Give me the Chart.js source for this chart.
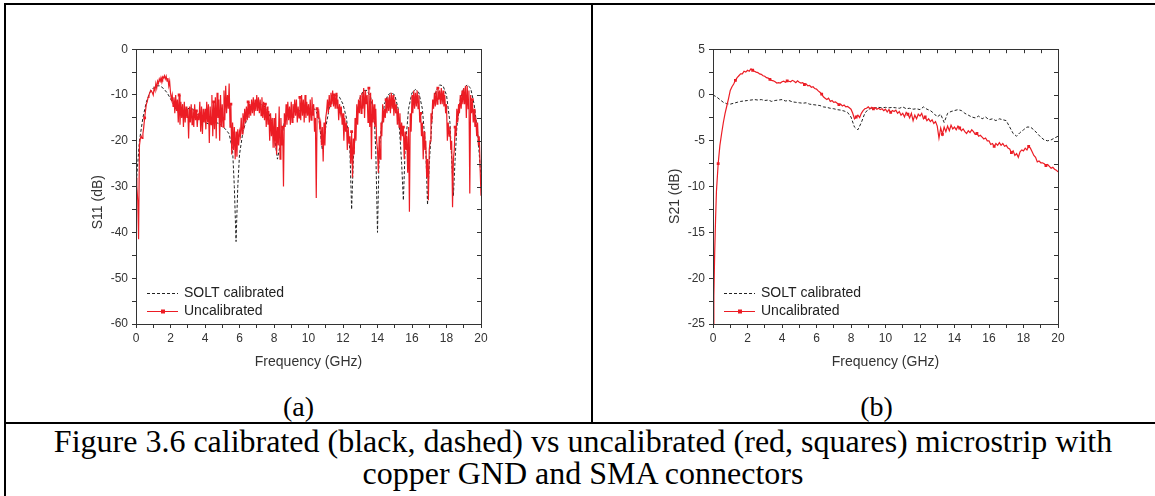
<!DOCTYPE html>
<html>
<head>
<meta charset="utf-8">
<script src="https://cdn.jsdelivr.net/npm/chart.js@4.4.1/dist/chart.umd.min.js"></script>
<style>
  body { margin: 0; background: #fff; width: 1155px; height: 496px; overflow: hidden; position: relative; }
  .ln { position: absolute; background: #000; }
  .box { position: absolute; }
  .cap { position: absolute; font-family: "Liberation Serif", "Times New Roman", serif; color: #000; text-align: center; white-space: nowrap; }
</style>
</head>
<body>
<!-- table lines -->
<div class="ln" style="left:4px; top:3px; width:1160px; height:2px;"></div>
<div class="ln" style="left:4px; top:3px; width:2px; height:500px;"></div>
<div class="ln" style="left:591px; top:3px; width:2px; height:421px;"></div>
<div class="ln" style="left:4px; top:422px; width:1160px; height:2px;"></div>

<div class="box" style="left:90px; top:38px; width:411px; height:336px;"><canvas id="c1"></canvas></div>
<div class="box" style="left:667px; top:38px; width:411px; height:336px;"><canvas id="c2"></canvas></div>

<div class="cap" style="left:6px; width:585px; top:392px; font-size:28px; line-height:30px;">(a)</div>
<div class="cap" style="left:593px; width:567px; top:392px; font-size:28px; line-height:30px;">(b)</div>
<div class="cap" style="left:6px; width:1154px; top:425px; font-size:32px; line-height:32px;">Figure 3.6 calibrated (black, dashed) vs uncalibrated (red, squares) microstrip with<br>copper GND and SMA connectors</div>

<script>
// ---- (a) S11 ----
var s11CalFreq = [0,0.1,0.2,0.4,0.6,0.8,1.0,1.2,1.4,1.6,1.8,2.0,2.2,2.4,2.6,2.8,3.0,3.2,3.4,3.6,3.8,4.0,4.2,4.4,4.6,4.8,5.0,5.2,5.4,5.6,5.7,5.8,5.9,6.0,6.2,6.4,6.6,6.8,7.0,7.2,7.4,7.6,7.8,8.0,8.2,8.4,8.6,8.8,9.0,9.2,9.4,9.6,9.8,10.0,10.2,10.4,10.6,10.8,11.0,11.2,11.4,11.6,11.8,12.0,12.2,12.4,12.5,12.6,12.8,13.0,13.2,13.4,13.6,13.8,13.9,14.0,14.1,14.2,14.4,14.6,14.8,15.0,15.2,15.4,15.5,15.6,15.8,16.0,16.2,16.4,16.6,16.8,16.9,17.0,17.2,17.4,17.6,17.8,18.0,18.2,18.3,18.4,18.5,18.6,18.8,19.0,19.2,19.4,19.6,19.8,20.0];
var s11Cal = [-30,-25,-20,-15,-11.5,-9.5,-8.5,-8,-8,-8.6,-9.5,-10.8,-12.2,-13.6,-14.5,-14,-13,-12.8,-13.5,-14.5,-15.5,-16,-16.3,-16.2,-16,-16.2,-16.8,-17.5,-18.5,-22,-30,-42,-30,-23,-18,-15.5,-13.5,-12.5,-12,-12,-12.3,-13.2,-15,-18.5,-24,-20,-16,-14,-13.5,-13.3,-13.5,-13.4,-13.2,-13,-12.8,-13.2,-15,-22,-17,-13,-11,-10,-10.5,-12,-15,-22,-35,-24,-14,-10.5,-9,-9,-10.5,-14,-22,-40,-22,-18,-12,-10,-9.5,-10,-13,-25,-33,-22,-13,-9.5,-8.8,-9.5,-13,-22,-34,-25,-13,-9,-7.8,-8,-10,-16,-24,-32,-24,-17,-11,-8.5,-7.8,-8.5,-12,-18,-28];
// uncalibrated, one value every 0.05 GHz, one row per GHz
var s11Uncal = [
  -28,-30,-33,-41.5,-21,-19.5,-19,-19.5,-18.5,-17,-15,-13.5,-12,-11.5,-10.5,-10,-9.5,-9,-9.2,-9.5,
  -10,-8.5,-9,-7.5,-8.5,-7,-7.5,-6.5,-7,-6.2,-6.8,-6,-6.3,-5.8,-6.5,-5.9,-7,-6.3,-8,-7,
  -9.5,-11,-10,-12.5,-10.5,-14,-10,-13.5,-11,-16,-10,-16.5,-11.5,-15,-12,-17,-11.5,-16,-12.5,-15,
  -13,-19.5,-12.5,-16,-12,-16.5,-13,-17,-12,-15.5,-13.5,-17,-14,-15.5,-11.5,-18,-12.5,-18.5,-13,-16,
  -13,-17.5,-11.5,-16,-12,-20.5,-12.5,-16.5,-10,-19,-11.5,-17.5,-10.5,-19.5,-9.5,-15,-11,-20,-10,-17,
  -12,-17,-9,-15.5,-8,-14,-10,-13,-7.5,-17,-12,-23,-16,-22,-17,-24,-18,-23.5,-17.5,-21,
  -18,-19,-15,-18.5,-14,-17.5,-13,-16,-12.5,-15.5,-11.5,-15,-12,-14.5,-11,-14,-10.5,-14.5,-11,-13.5,
  -10,-13.5,-10.5,-14,-11,-14.5,-10.5,-15,-11.5,-15.5,-12,-17,-12.5,-16.5,-13.5,-20,-14,-19,-15,-21.5,
  -15,-21.5,-14,-23,-17,-21,-12.5,-24,-15,-21,-17,-30,-14,-17,-12,-16.5,-11.5,-15.5,-12.5,-16.5,
  -11.5,-16,-12,-15,-11,-14.5,-11,-16,-12.5,-15,-10.5,-15.5,-10,-14.5,-11,-16,-10,-15,-11.5,-14.5,
  -12,-16,-11,-15.5,-10.5,-14.5,-12,-18,-15,-32.5,-13,-15,-14,-17,-16,-21,-17,-24.5,-16,-21,
  -15,-13.5,-11,-14,-10,-12.5,-9.5,-12,-9,-12.5,-10,-13,-9.5,-13,-11,-15.5,-12,-14,-12.5,-16.5,
  -14,-20,-15,-18,-16,-22,-17,-20.5,-19,-25,-18,-28,-19.5,-23,-15,-20,-12,-16.5,-11,-14,
  -10,-14,-9.5,-13,-8.5,-15,-9,-12,-10,-16,-8.5,-17,-9.5,-24,-11,-16,-12,-17,-13,-20,
  -22,-27,-19,-24,-16,-19,-12,-16,-13,-15,-11,-14,-10.5,-13.5,-10,-14,-9.5,-13,-10,-14.5,
  -11,-14,-12,-16.5,-13,-17,-14,-20,-16,-19,-17,-24,-18,-22,-19,-27,-17,-35.5,-14,-18,
  -10,-14,-9,-13,-9.5,-12.5,-9,-13,-10,-16,-14,-19,-16,-24,-18,-22,-20,-28,-24,-33,
  -22,-20,-14,-16,-11,-13,-9.5,-12.5,-9,-12,-8.5,-11,-9,-12,-8.5,-12,-9,-12.5,-10,-14,
  -12,-20,-16,-19,-17,-22,-20,-34.5,-24,-22,-17,-19,-13,-16,-12,-14,-10,-13,-9,-12,
  -8.5,-12,-8,-15,-8,-13,-9,-31.5,-10,-14,-11,-16,-13,-17,-15,-19,-16,-21,-19,-26,
  -32];
var s11UncalFreq = [];
for (var k = 0; k < s11Uncal.length; k++) s11UncalFreq.push(+(k * 0.05).toFixed(2));

// ---- (b) S21 ----
var s21CalFreq = [];
for (var i = 0; i <= 100; i++) s21CalFreq.push(+(i * 0.2).toFixed(1));
var s21Cal = [0,-0.2,-0.5,-0.8,-0.95,-1.0,-0.9,-0.8,-0.7,-0.65,
  -0.6,-0.55,-0.5,-0.55,-0.5,-0.6,-0.55,-0.7,-0.6,-0.55,
  -0.5,-0.65,-0.6,-0.75,-0.8,-0.85,-0.9,-0.85,-1.0,-1.05,
  -1.1,-1.15,-1.3,-1.35,-1.45,-1.5,-1.6,-1.65,-1.75,-1.9,
  -2.4,-3.5,-3.8,-3.0,-2.0,-1.55,-1.45,-1.4,-1.35,-1.4,
  -1.35,-1.4,-1.35,-1.4,-1.45,-1.3,-1.5,-1.45,-1.55,-1.5,
  -1.6,-1.3,-1.55,-1.7,-2.0,-2.4,-2.1,-3.0,-2.0,-1.8,
  -1.7,-1.6,-1.7,-2.0,-2.2,-2.4,-2.5,-2.3,-2.6,-2.4,
  -2.7,-2.6,-2.8,-2.6,-2.7,-2.8,-3.5,-4.2,-4.5,-4.1,
  -3.8,-3.5,-3.5,-3.8,-4.2,-4.6,-4.9,-5.0,-4.9,-4.7,
  -4.5];
var s21UncalFreq = [0, 0.05, 0.1, 0.15];
for (var j = 2; j <= 200; j++) s21UncalFreq.push(+(j * 0.1).toFixed(1));
var s21Uncal = [-25,-22,-17,-13.5,
  -10.5,-7.5,-5.5,-4.2,-3.0,-2.0,-1.2,-0.4,
  0.5,0.9,1.2,1.6,1.9,2.1,2.3,2.3,2.6,2.5,
  2.7,2.6,2.85,2.7,2.6,2.5,2.45,2.3,2.25,2.1,
  2.05,1.9,1.85,1.7,1.6,1.55,1.45,1.3,1.35,1.3,
  1.45,1.5,1.4,1.55,1.5,1.45,1.6,1.5,1.35,1.55,
  1.4,1.3,1.35,1.15,1.2,1.0,1.05,0.85,0.9,0.7,
  0.65,0.45,0.3,0.1,-0.2,-0.35,-0.5,-0.35,-0.7,-0.6,
  -0.8,-0.75,-0.9,-1.05,-1.0,-1.2,-1.1,-1.3,-1.25,-1.4,
  -1.55,-2.0,-2.6,-2.4,-2.2,-2.45,-2.0,-1.7,-1.5,-1.45,
  -1.3,-1.5,-1.35,-1.5,-1.4,-1.55,-1.45,-1.6,-1.5,-1.7,
  -1.55,-1.85,-1.6,-1.9,-1.7,-1.8,-1.65,-2.0,-1.8,-2.2,
  -2.0,-2.4,-1.9,-2.1,-2.5,-2.0,-2.8,-2.2,-2.6,-2.1,
  -2.3,-2.0,-2.6,-2.4,-2.8,-2.6,-2.9,-2.7,-3.1,-2.9,
  -3.4,-4.7,-3.6,-4.3,-3.5,-4.0,-3.4,-3.9,-3.3,-3.7,
  -3.5,-3.8,-3.4,-3.6,-3.9,-3.7,-4.0,-4.2,-3.9,-4.1,
  -3.8,-4.0,-4.3,-4.2,-4.5,-4.4,-4.6,-4.8,-4.7,-5.0,
  -5.0,-5.4,-5.3,-5.6,-5.3,-5.5,-5.2,-5.5,-5.3,-5.6,
  -5.5,-5.8,-5.9,-6.3,-6.1,-6.6,-6.4,-6.8,-6.2,-6.0,
  -6.1,-5.8,-6.0,-5.6,-5.8,-6.2,-6.6,-6.8,-7.3,-7.2,
  -7.4,-7.4,-7.5,-7.7,-7.6,-7.8,-8.0,-7.9,-8.1,-8.2,
  -8.4];

var freqTicks = [0, 2, 4, 6, 8, 10, 12, 14, 16, 18, 20];
var seriesNames = ["SOLT calibrated", "Uncalibrated"];

var RED = "#ec1c24";
var AXIS = "#333";

function pts(xs, ys) {
    var out = [];
    for (var i = 0; i < ys.length; i++) out.push({x: xs[i], y: ys[i]});
    return out;
}

// frame, inward ticks on top/right, legend in lower left
var frame = {
    id: "frame",
    afterDraw: function (chart) {
        var ctx = chart.ctx, a = chart.chartArea;
        var xs = chart.scales.x, ys = chart.scales.y;
        ctx.save();
        ctx.strokeStyle = AXIS;
        ctx.lineWidth = 1;
        ctx.strokeRect(Math.round(a.left) + 0.5, Math.round(a.top) + 0.5, Math.round(a.right - a.left), Math.round(a.bottom - a.top));
        ctx.beginPath();
        xs.ticks.forEach(function (t) {
            var px = Math.round(xs.getPixelForValue(t.value)) + 0.5;
            ctx.moveTo(px, a.top); ctx.lineTo(px, a.top + 4);
        });
        ys.ticks.forEach(function (t) {
            var py = Math.round(ys.getPixelForValue(t.value)) + 0.5;
            ctx.moveTo(a.right, py); ctx.lineTo(a.right - 4, py);
        });
        ctx.stroke();

        // legend
        var lx = a.left + 11, tx = a.left + 48;
        var rows = [a.bottom - 31, a.bottom - 13];
        ctx.font = "14px 'Liberation Sans', Arial, sans-serif";
        ctx.textBaseline = "middle";
        chart.data.datasets.forEach(function (ds, i) {
            var y = Math.round(rows[i]) + 0.5;
            ctx.beginPath();
            ctx.strokeStyle = ds.borderColor;
            ctx.lineWidth = 1;
            ctx.setLineDash(ds.borderDash || []);
            ctx.moveTo(lx, y); ctx.lineTo(lx + 31, y);
            ctx.stroke();
            ctx.setLineDash([]);
            if (i === 1) {
                ctx.fillStyle = ds.borderColor;
                ctx.fillRect(lx + 14, y - 2, 4, 4);
            }
            ctx.fillStyle = "#222";
            ctx.fillText(ds.label, tx, rows[i]);
        });
        ctx.restore();
    }
};

// ytitle may carry trailing spaces: the rotated title then sits a bit lower, as in the original
function makeChart(id, calX, calY, uncX, uncY, ymin, ymax, ystep, ylabStep, ytitle, markEvery) {
    return new Chart(document.getElementById(id), {
        type: "line",
        data: {
            datasets: [
                {
                    label: seriesNames[0],
                    data: pts(calX, calY),
                    borderColor: "#222",
                    borderWidth: 1,
                    borderDash: [3, 2],
                    pointRadius: 0,
                    order: 1
                },
                {
                    label: seriesNames[1],
                    data: pts(uncX, uncY),
                    borderColor: RED,
                    backgroundColor: RED,
                    borderWidth: 1.2,
                    pointStyle: "rect",
                    pointRadius: function (c) { return c.dataIndex % markEvery === Math.floor(markEvery / 2) ? 2 : 0; },
                    pointBorderWidth: 0,
                    order: 0
                }
            ]
        },
        options: {
            animation: false,
            responsive: true,
            maintainAspectRatio: false,
            devicePixelRatio: 1,
            layout: { padding: { left: 0, top: 10, right: 20, bottom: 0 } },
            plugins: { legend: { display: false }, tooltip: { enabled: false } },
            elements: { line: { tension: 0 } },
            scales: {
                x: {
                    type: "linear",
                    min: 0, max: 20,
                    afterFit: function (s) { s.height = 50; },
                    ticks: {
                        stepSize: 1,
                        autoSkip: false,
                        maxRotation: 0,
                        padding: 3,
                        color: AXIS,
                        font: { family: "'Liberation Sans', Arial, sans-serif", size: 12 },
                        callback: function (v) { return freqTicks.indexOf(v) >= 0 ? v : ""; }
                    },
                    grid: { drawOnChartArea: false, tickLength: 4, color: AXIS },
                    border: { color: AXIS },
                    title: {
                        display: true,
                        text: "Frequency (GHz)",
                        color: AXIS,
                        padding: { top: 0, bottom: 3 },
                        font: { family: "'Liberation Sans', Arial, sans-serif", size: 14 }
                    }
                },
                y: {
                    min: ymin, max: ymax,
                    afterFit: function (s) { s.width = 46; },
                    ticks: {
                        stepSize: ystep,
                        autoSkip: false,
                        padding: 4,
                        color: AXIS,
                        font: { family: "'Liberation Sans', Arial, sans-serif", size: 12 },
                        callback: function (v) { return v % ylabStep === 0 ? v : ""; }
                    },
                    grid: { drawOnChartArea: false, tickLength: 4, color: AXIS },
                    border: { color: AXIS },
                    title: {
                        display: true,
                        text: ytitle,
                        color: AXIS,
                        padding: { top: 0, bottom: 0 },
                        font: { family: "'Liberation Sans', Arial, sans-serif", size: 14 }
                    }
                }
            }
        },
        plugins: [frame]
    });
}

makeChart("c1", s11CalFreq, s11Cal, s11UncalFreq, s11Uncal, -60, 0, 5, 10, "S11 (dB)        ", 20);
makeChart("c2", s21CalFreq, s21Cal, s21UncalFreq, s21Uncal, -25, 5, 2.5, 5, "S21 (dB)     ", 10);
</script>
</body>
</html>
